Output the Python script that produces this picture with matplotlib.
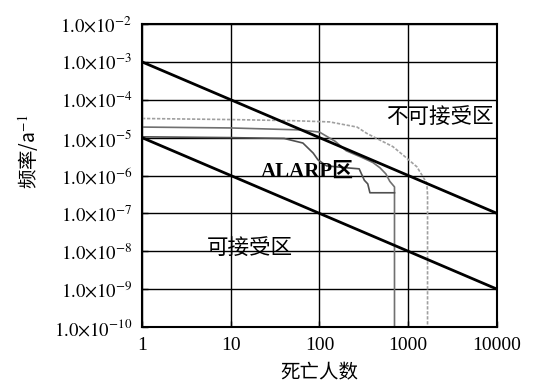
import matplotlib
matplotlib.use("Agg")
import matplotlib.pyplot as plt

plt.rcParams['font.family'] = ['Liberation Serif', 'Noto Sans CJK SC', 'DejaVu Sans']
plt.rcParams['mathtext.fontset'] = 'stix'

# ---- data ----
x_ticks = [1, 10, 100, 1000, 10000]
x_tick_labels = ['1', '10', '100', '1000', '10000']
y_exps = [-2, -3, -4, -5, -6, -7, -8, -9, -10]

upper_n = [1, 10000]
upper_f = [1e-3, 1e-7]
lower_n = [1, 10000]
lower_f = [1e-5, 1e-9]

curve_a_n = [1, 10, 50, 130, 265, 340, 480, 670, 870, 1250, 1620, 1650, 1650]
curve_a_f = [3.2e-5, 3.0e-5, 2.8e-5, 2.6e-5, 1.9e-5, 1.3e-5, 8.6e-6, 5.8e-6,
             3.5e-6, 1.7e-6, 6.3e-7, 3e-7, 1e-10]

curve_b_n = [1, 10, 60, 100, 150, 200, 300, 400, 480, 560, 620, 700, 700]
curve_b_f = [1.9e-5, 1.8e-5, 1.6e-5, 1.4e-5, 8e-6, 4.5e-6, 3e-6, 2.2e-6,
             1.6e-6, 1.1e-6, 7e-7, 5e-7, 1e-10]

curve_c_n = [1, 10, 40, 65, 85, 96, 120, 200, 280, 320, 350, 370, 620, 700]
curve_c_f = [1.05e-5, 1.0e-5, 9.5e-6, 7.2e-6, 3.9e-6, 2.6e-6, 1.8e-6, 1.6e-6,
             1.5e-6, 7.5e-7, 6e-7, 3.5e-7, 3.5e-7, 3.5e-7]

fig = plt.figure(figsize=(5.37, 3.85), dpi=100)
ax = fig.add_axes([0.2644, 0.1506, 0.6611, 0.7871])
ax.set_xscale('log')
ax.set_yscale('log')
ax.set_xlim(1, 10000)
ax.set_ylim(1e-10, 1e-2)

ax.grid(True, which='major', color='black', linewidth=1.0)
ax.minorticks_off()

ax.plot(curve_a_n, curve_a_f, color='#a0a0a0', linewidth=1.2, linestyle=(0, (2, 1)))
ax.plot(curve_b_n, curve_b_f, color='#707070', linewidth=1.2)
ax.plot(curve_c_n, curve_c_f, color='#505050', linewidth=1.2)

ax.plot(upper_n, upper_f, color='black', linewidth=2.0)
ax.plot(lower_n, lower_f, color='black', linewidth=2.0)

ax.set_xticks(x_ticks)
ax.set_xticklabels(x_tick_labels, fontsize=14)
ax.set_yticks([10.0 ** e for e in y_exps])
ax.set_yticklabels([r'$\mathrm{1.0{\times}10^{%d}}$' % e for e in y_exps], fontsize=13.5)
ax.tick_params(axis='both', direction='in', length=4, width=1, pad=7)

for s in ax.spines.values():
    s.set_linewidth(1.5)

ax.set_xlabel('死亡人数', fontsize=14, family=['Noto Sans CJK SC'], labelpad=6)
ax.set_ylabel('频率/a$^{-1}$', fontsize=14, family=['Noto Sans CJK SC', 'DejaVu Sans'])
ax.yaxis.set_label_coords(-0.285, 0.58)

ax.text(2290, 3.5e-5, '不可接受区', fontsize=15.5, family=['Noto Sans CJK SC'],
        ha='center', va='center')
ax.text(72, 1.25e-6, 'ALARP区', fontsize=15, fontweight='bold',
        family=['Liberation Serif', 'Noto Sans CJK SC'], ha='center', va='center')
ax.text(16.5, 1.2e-8, '可接受区', fontsize=15.5, family=['Noto Sans CJK SC'],
        ha='center', va='center')

fig.savefig('out.png', dpi=100)
